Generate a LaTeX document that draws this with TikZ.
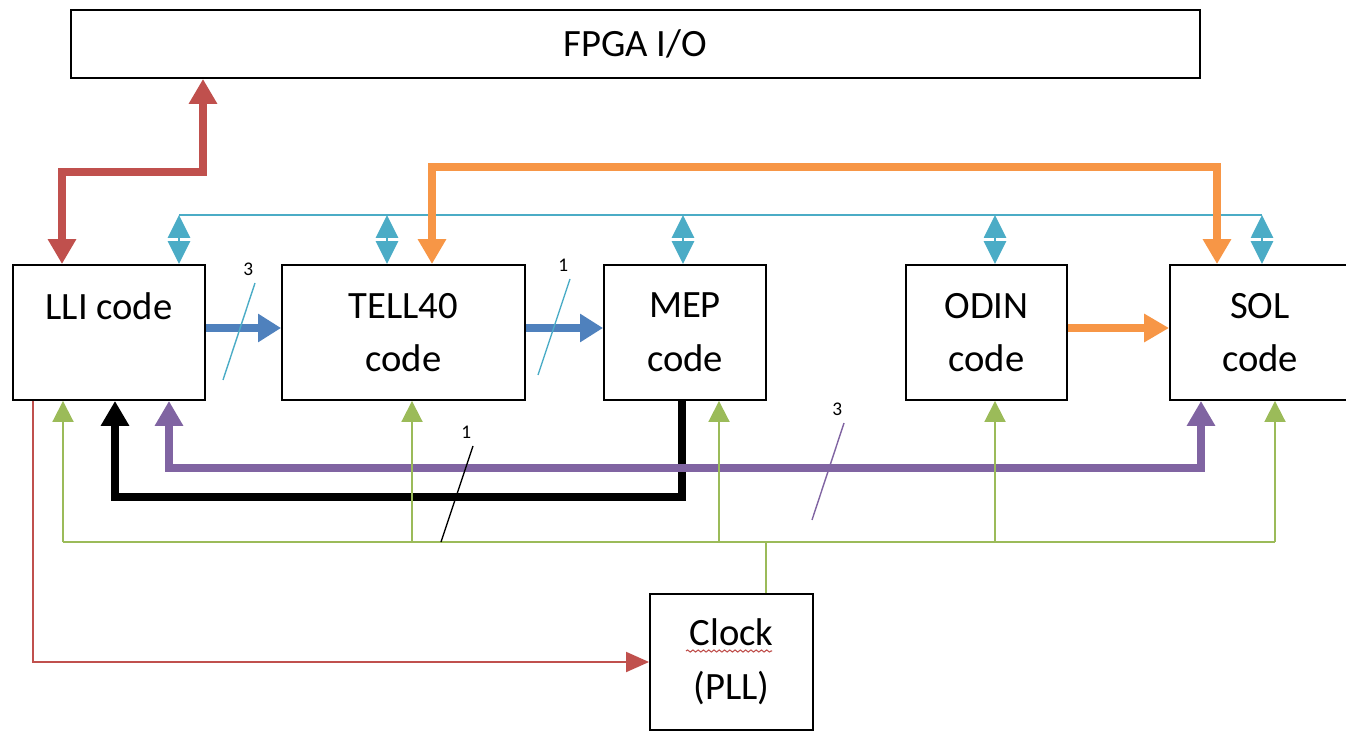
\documentclass[tikz,border=0pt]{standalone}
\usepackage{fontspec}
\setmainfont{Carlito}
\usetikzlibrary{arrows.meta,decorations.pathmorphing,positioning}

\definecolor{lnkred}{HTML}{C0504D}
\definecolor{lnkorange}{HTML}{F79646}
\definecolor{lnkblue}{HTML}{4F81BD}
\definecolor{lnkpurple}{HTML}{8064A2}
\definecolor{lnkgreen}{HTML}{9BBB59}
\definecolor{lnkcyan}{HTML}{4BACC6}

\tikzset{
  % ----- the thick data paths
  bus/.style={line width=4pt, line join=miter, >={Triangle[length=5mm,width=5.4mm]}},
  redbus/.style = {bus, draw=lnkred, line width=4.4pt},
  orangebus/.style = {bus, draw=lnkorange},
  bluebus/.style = {bus, draw=lnkblue, >={Triangle[length=4.6mm,width=5.4mm]}},
  blackbus/.style = {bus, draw=black},
  purplebus/.style = {bus, draw=lnkpurple},
  % ----- the thin lines
  cyline/.style = {draw=lnkcyan, line width=1.6pt},
  cyarrow/.style = {cyline, >={Triangle[length=4.6mm,width=4.4mm]}},
  clkline/.style = {draw=lnkgreen, line width=1.1pt, >={Triangle[length=4.2mm,width=4.2mm]}},
  redline/.style = {draw=lnkred, line width=1.1pt, >={Triangle[length=4.6mm,width=4mm]}},
  slash/.style = {line width=0.8pt},
  width/.style = {font=\fontsize{11}{13}\selectfont, inner sep=1pt}
}

\begin{document}
\begin{tikzpicture}[
                x = 0.02cm, y = -0.02cm, % one unit per pixel
                semithick % line style
            ]
        \tikzstyle{block}=[
                draw = black,
                line width = 1.1pt,
                fill = white,
                inner sep = 0pt,
                align = center,
                font = \fontsize{22}{30.6}\selectfont
            ]
        \useasboundingbox (0,0) rectangle (1346,733);

        % blocks
        \node[block, minimum width=22.58cm, minimum height=1.36cm] (FPGA) at (635.5,44) {FPGA I/O};
        \node[block, minimum width=3.84cm, minimum height=2.7cm] (LLI) at (109,332.5) {LLI code\\\mbox{}};
        \node[block, minimum width=4.86cm, minimum height=2.7cm] (TELL40) at (403.5,332.5) {TELL40\\code};
        \node[block, minimum width=3.24cm, minimum height=2.7cm] (MEP) at (685,332.5) {MEP\\code};
        \node[block, minimum width=3.22cm, minimum height=2.7cm] (ODIN) at (986.5,332.5) {ODIN\\code};
        \node[block, minimum width=3.6cm, minimum height=2.7cm] (SOL) at (1260,332.5) {SOL\\code};
        \node[block, minimum width=3.26cm, minimum height=2.72cm] (Clock) at (731.5,662) {Clock\\(PLL)};
        \draw[lnkred, line width=0.6pt, decorate,
              decoration={snake, amplitude=0.6pt, segment length=3pt}] (686,651) -- (772,651);

        % control bus over the top
        \coordinate (busL) at (179,215);
        \coordinate (busR) at (1262,215);
        \draw[cyline] (busL) -- (busR);
        \foreach \n/\x in {LLI/179, TELL40/387, MEP/683, ODIN/995, SOL/1262}{
            \draw[cyarrow,<->] (busL -| \x,0) -- (\n.north -| \x,0);
        }

        % LLI to the FPGA pins
        \draw[redbus,<->] (LLI.north -| 62,0) |- (203,172) -- (FPGA.south -| 203,0);

        % ODIN / SOL / TELL40
        \draw[orangebus,<->] (TELL40.north -| 432,0) |- (1217,167) -- (SOL.north -| 1217,0);
        \draw[orangebus,->] (ODIN.east |- 0,328) -- (SOL.west |- 0,328);

        % event data
        \draw[bluebus,->] (LLI.east |- 0,328) -- (TELL40.west |- 0,328);
        \draw[bluebus,->] (TELL40.east |- 0,328) -- (MEP.west |- 0,328);

        % back to LLI
        \draw[blackbus,->] (MEP.south -| 682,0) |- (115,497) -- (LLI.south -| 115,0);
        \draw[purplebus,<->] (LLI.south -| 169,0) |- (1201,468) -- (SOL.south -| 1201,0);

        % clock tree
        \coordinate (clkL) at (63,542);
        \coordinate (clkR) at (1275,542);
        \draw[clkline] (clkL) -- (clkR);
        \draw[clkline] (Clock.north -| 766,0) -- (clkL -| 766,0);
        \foreach \n/\x in {LLI/63, TELL40/412, MEP/719, ODIN/995, SOL/1275}{
            \draw[clkline,->] (clkL -| \x,0) -- (\n.south -| \x,0);
        }
        \draw[redline,->] (LLI.south -| 33,0) |- (Clock.west);

        % bus widths
        \draw[slash, lnkcyan] (223,380) -- (255,283) node[width, black, above right=3pt and -8pt] (w1) {3};
        \draw[slash, lnkcyan] (538,375) -- (570,279) node[width, black, above right=3pt and -8pt] (w2) {1};
        \draw[slash, black] (441,542) -- (473,446) node[width, black, above right=3pt and -8pt] (w3) {1};
        \draw[slash, lnkpurple] (812,520) -- (844,423) node[width, black, above right=3pt and -8pt] (w4) {3};
    \end{tikzpicture}
\end{document}
